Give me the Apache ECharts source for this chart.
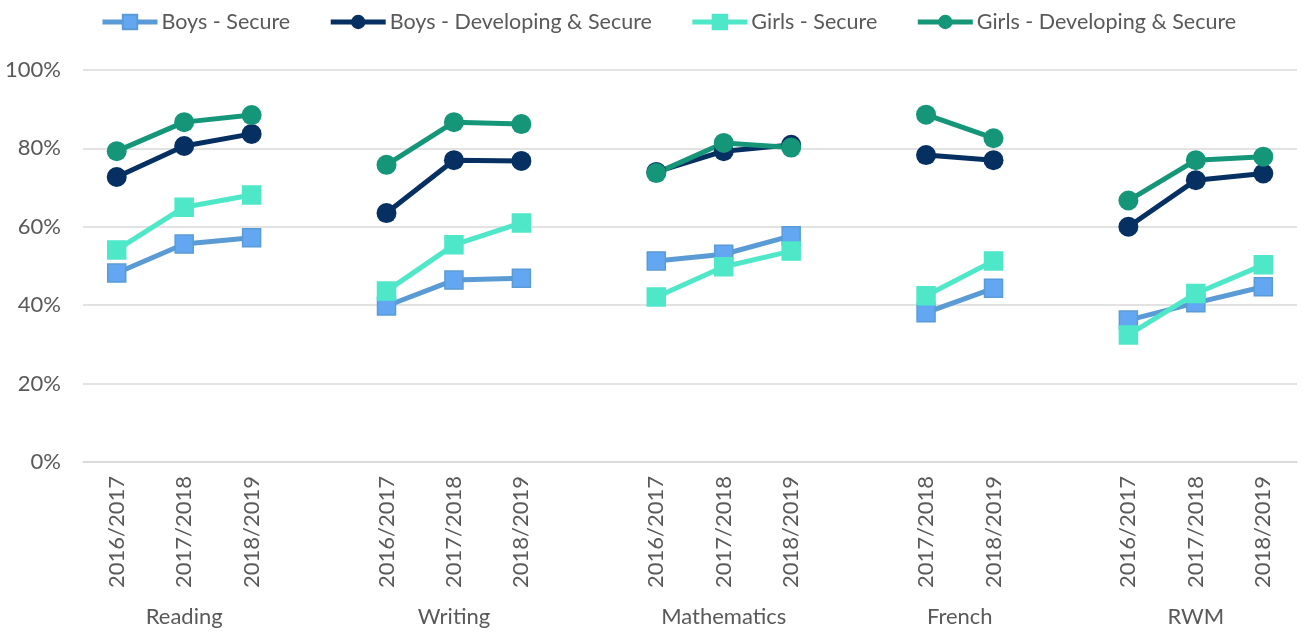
<!DOCTYPE html>
<html>
<head>
<meta charset="utf-8">
<script src="https://cdn.jsdelivr.net/npm/echarts@6/dist/echarts.min.js"></script>
<style>
  html, body { margin: 0; padding: 0; background: #fff; }
  #chart { width: 1303px; height: 635px; }
</style>
</head>
<body>
<div id="chart"></div>
<script>
// categories, '' = gap between subjects
const years = [
  '2016/2017', '2017/2018', '2018/2019', '',
  '2016/2017', '2017/2018', '2018/2019', '',
  '2016/2017', '2017/2018', '2018/2019', '',
  '2017/2018', '2018/2019', '',
  '2016/2017', '2017/2018', '2018/2019'
]
// subject labels on a half-step axis (37 points, boundaryGap false)
const subjects = [
  '', '', '', 'Reading', '', '', '', '', '', '', '', 'Writing', '', '', '', '', '', '', '',
  'Mathematics', '', '', '', '', '', '', 'French', '', '', '', '', '', '', 'RWM', '', '', ''
]

const boysSecure = [48.2, 55.6, 57.2, null, 39.8, 46.4, 46.9, null, 51.3, 53.0, 57.7, null, 38.1, 44.3, null, 36.2, 40.6, 44.7]
const boysDevSecure = [72.7, 80.6, 83.7, null, 63.5, 77.0, 76.8, null, 74.0, 79.3, 80.9, null, 78.3, 77.0, null, 60.0, 71.9, 73.6]
const girlsSecure = [54.1, 65.0, 68.1, null, 43.6, 55.4, 61.0, null, 42.1, 49.8, 53.8, null, 42.4, 51.3, null, 32.4, 43.0, 50.3]
const girlsDevSecure = [79.3, 86.7, 88.5, null, 75.8, 86.7, 86.2, null, 73.7, 81.4, 80.2, null, 88.6, 82.6, null, 66.7, 77.0, 77.9]

const font = 'Lato, "Noto Sans", sans-serif'
const textColor = '#595959'

function lineSeries(name, data, color, symbol, markerColor, size) {
  return {
    name: name,
    type: 'line',
    data: data,
    symbol: symbol,
    symbolSize: size,
    lineStyle: { color: color, width: 5 },
    itemStyle: {
      color: markerColor,
      borderColor: color,
      borderWidth: symbol === 'rect' ? 1.5 : 0
    },
    emphasis: { disabled: true },
    animation: false,
    z: 2
  }
}

const chart = echarts.init(document.getElementById('chart'))
chart.setOption({
  backgroundColor: '#fff',
  textStyle: { fontFamily: font },
  legend: {
    left: 95,
    top: 6,
    itemWidth: 55,
    itemHeight: 18,
    itemGap: 38,
    lineStyle: { width: 5 },
    textStyle: { fontFamily: font, fontSize: 21.5, color: textColor, padding: [0, 0, 0, -1] },
    data: ['Boys - Secure', 'Boys - Developing & Secure', 'Girls - Secure', 'Girls - Developing & Secure']
  },
  grid: {
    left: 83,
    right: 6,
    top: 70,
    bottom: 173
  },
  xAxis: [{
    type: 'category',
    data: years,
    axisLine: { show: true, lineStyle: { color: '#D9D9D9', width: 1.5 } },
    axisTick: { show: false },
    axisLabel: {
      interval: 0,
      rotate: 90,
      margin: 14,
      fontFamily: font,
      fontSize: 22,
      color: textColor
    }
  }, {
    type: 'category',
    data: subjects,
    position: 'bottom',
    offset: 134,
    boundaryGap: false,
    axisLine: { show: false },
    axisTick: { show: false },
    axisLabel: {
      interval: 0,
      margin: 10,
      fontFamily: font,
      fontSize: 22,
      color: textColor
    }
  }],
  yAxis: {
    type: 'value',
    min: 0,
    max: 100,
    interval: 20,
    axisLine: { show: false },
    axisTick: { show: false },
    splitLine: { lineStyle: { color: '#D9D9D9', width: 1.5 } },
    axisLabel: {
      formatter: '{value}%',
      margin: 22,
      fontFamily: font,
      fontSize: 22,
      color: textColor
    }
  },
  series: [
    lineSeries('Boys - Secure', boysSecure, '#5B9BD5', 'rect', '#63A7F3', 18),
    lineSeries('Boys - Developing & Secure', boysDevSecure, '#062F62', 'circle', '#062F62', 20),
    lineSeries('Girls - Secure', girlsSecure, '#4EE8C9', 'rect', '#4EE8C9', 18),
    lineSeries('Girls - Developing & Secure', girlsDevSecure, '#159679', 'circle', '#159679', 20)
  ]
})
</script>
</body>
</html>
